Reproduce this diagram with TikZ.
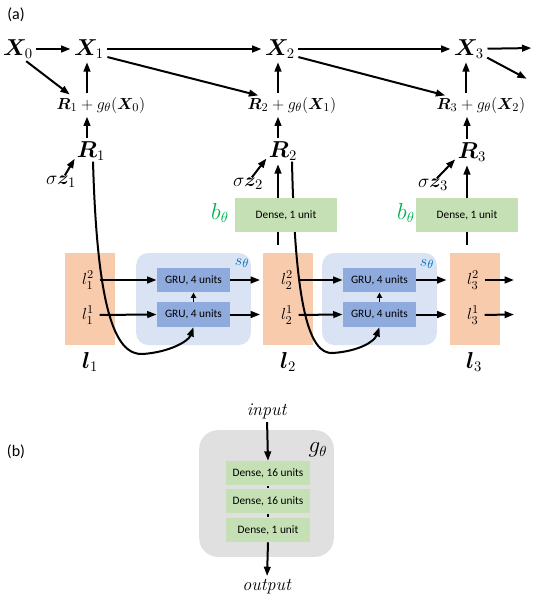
\documentclass[tikz,border=0pt]{standalone}
\usepackage{amsmath}
\usepackage{fontspec}
\setsansfont{Carlito}
\usepackage{bm}
\usetikzlibrary{arrows.meta,calc}
\definecolor{orng}{HTML}{F8CBAD}
\definecolor{lblue}{HTML}{DAE3F3}
\definecolor{gblue}{HTML}{8FAADC}
\definecolor{lgreen}{HTML}{C5E0B4}
\definecolor{gtext}{HTML}{00B050}
\definecolor{btext}{HTML}{0070C0}
\definecolor{lgray}{HTML}{E0E0E0}
\begin{document}
\begin{tikzpicture}[x=0.75pt,y=-0.75pt,
  arr/.style={line width=1.5pt,-{Triangle[length=7pt,width=5pt]},shorten <=2pt,shorten >=2pt},
  sarr/.style={line width=1.3pt,-{Triangle[length=4pt,width=4pt]}},
  ln/.style={line width=1.5pt},
  txt/.style={inner sep=0.5pt},
  bigm/.style={txt,font=\fontsize{16}{18}\selectfont},
  sigm/.style={txt,font=\fontsize{15}{17}\selectfont},
  midm/.style={txt,font=\fontsize{13}{15}\selectfont},
  lm/.style={inner sep=0pt,font=\fontsize{13}{14}\selectfont},
  panel/.style={txt,font=\sffamily\fontsize{12}{14}\selectfont},
  unit/.style={inner sep=0pt,font=\sffamily\fontsize{8.5}{10}\selectfont},
  lbox/.style={fill=orng,draw=none,minimum width=37.5pt,minimum height=69pt,inner sep=0pt},
  sbox/.style={fill=lblue,draw=none,rounded corners=9pt,minimum width=86pt,minimum height=69pt,inner sep=0pt},
  gru/.style={unit,fill=gblue,minimum width=55pt,minimum height=18.5pt},
  dense/.style={unit,fill=lgreen,minimum width=76.5pt,minimum height=25.5pt},
  dsm/.style={unit,fill=lgreen,minimum width=63pt,minimum height=18pt},
]
\useasboundingbox (0,0) rectangle (538,600);

% ---------- panel labels
\node[panel] (pa) at (16,15) {(a)};
\node[panel] (pb) at (16,452) {(b)};

% ---------- top row
\node[bigm] (X0) at (18,49) {$\bm{X}_0$};
\node[bigm] (X1) at (89,49) {$\bm{X}_1$};
\node[bigm] (X2) at (280,49) {$\bm{X}_2$};
\node[bigm] (X3) at (469,49) {$\bm{X}_3$};
\coordinate (o1) at (534,48);
\coordinate (o2) at (529,80);

\node[midm] (Rg1) at (101,105) {$\bm{R}_1+g_\theta(\bm{X}_0)$};
\node[midm] (Rg2) at (292,105) {$\bm{R}_2+g_\theta(\bm{X}_1)$};
\node[midm] (Rg3) at (481,105) {$\bm{R}_3+g_\theta(\bm{X}_2)$};

\node[bigm] (R1) at (91,151) {$\bm{R}_1$};
\node[bigm] (R2) at (283,151) {$\bm{R}_2$};
\node[bigm] (R3) at (472,152) {$\bm{R}_3$};

\node[sigm] (S1) at (61,182) {$\sigma\bm{z}_1$};
\node[sigm] (S2) at (248,184) {$\sigma\bm{z}_2$};
\node[sigm] (S3) at (433,185) {$\sigma\bm{z}_3$};

\draw[arr] (X0) -- (X1);
\draw[arr] (X1) -- (X2);
\draw[arr] (X2) -- (X3);
\draw[arr] (X3) -- (o1);
\draw[arr] (X3.-25) -- (o2);
\draw[arr] (X0.-60) -- ($(Rg1.north west)+(16,0)$);
\draw[arr] (X1.-25) -- ($(Rg2.north west)+(14,0)$);
\draw[arr] (X2.-25) -- ($(Rg3.north west)+(12,0)$);

\draw[arr] (Rg1.north -| R1.north) ++(-4,0) coordinate (t1) -- (t1 |- X1.south);
\draw[arr] (Rg2.north -| R2.north) ++(-5,0) coordinate (t2) -- (t2 |- X2.south);
\draw[arr] (Rg3.north -| R3.north) ++(-6,0) coordinate (t3) -- (t3 |- X3.south);
\draw[arr] (R1.north) ++(-4,0) coordinate (u1) -- (u1 |- Rg1.south);
\draw[arr] (R2.north) ++(-5,0) coordinate (u2) -- (u2 |- Rg2.south);
\draw[arr] (R3.north) ++(-5,0) coordinate (u3) -- (u3 |- Rg3.south);

\draw[arr,shorten <=0pt] (S1.60) -- (R1.200);
\draw[arr,shorten <=0pt] (S2.60) -- (R2.200);
\draw[arr,shorten <=0pt] (S3.60) -- (R3.200);

% ---------- lower row boxes
\node[lbox] (L1) at (90,299) {};
\node[lbox] (L2) at (288,299) {};
\node[lbox] (L3) at (474.5,299) {};
\node[sbox] (SB1) at (193.5,299) {};
\node[sbox] (SB2) at (379.5,299) {};
\node[gru] (G1u) at (193.5,280) {GRU, 4 units};
\node[gru] (G1d) at (193.5,314.5) {GRU, 4 units};
\node[gru] (G2u) at (379.5,280) {GRU, 4 units};
\node[gru] (G2d) at (379.5,314.5) {GRU, 4 units};
\node[midm,text=btext] (st1) at (242,263) {$s_\theta$};
\node[midm,text=btext] (st2) at (427,264) {$s_\theta$};

\node[lm] (l1u) at (88,280) {$l_1^2$};
\node[lm] (l1d) at (88,315) {$l_1^1$};
\node[lm] (l2u) at (287,280) {$l_2^2$};
\node[lm] (l2d) at (287,315) {$l_2^1$};
\node[lm] (l3u) at (473,280) {$l_3^2$};
\node[lm] (l3d) at (473,315) {$l_3^1$};
\node[bigm] (lb1) at (90,362) {$\bm{l}_1$};
\node[bigm] (lb2) at (288,362) {$\bm{l}_2$};
\node[bigm] (lb3) at (474,362) {$\bm{l}_3$};
\coordinate (e3u) at (514,280);
\coordinate (e3d) at (514,314.5);

\draw[arr,shorten <=4pt,shorten >=0pt] (l1u.east) -- (G1u.west);
\draw[arr,shorten <=4pt,shorten >=0pt] (l1d.east) -- (G1d.west);
\draw[arr,shorten <=0pt] (G1u.east) -- (G1u.east -| L2.west);
\draw[arr,shorten <=0pt] (G1d.east) -- (G1d.east -| L2.west);
\draw[arr,shorten <=4pt,shorten >=0pt] (l2u.east) -- (G2u.west);
\draw[arr,shorten <=4pt,shorten >=0pt] (l2d.east) -- (G2d.west);
\draw[arr,shorten <=0pt] (G2u.east) -- (G2u.east -| L3.west);
\draw[arr,shorten <=0pt] (G2d.east) -- (G2d.east -| L3.west);
\draw[arr,shorten <=4pt,shorten >=0pt] (l3u.east) -- (e3u);
\draw[arr,shorten <=4pt,shorten >=0pt] (l3d.east) -- (e3d);
\draw[sarr] (G1d.north) -- (G1u.south);
\draw[sarr] (G2d.north) -- (G2u.south);

% curves (over l boxes, under dense boxes)
\coordinate (m1) at (143,354);
\coordinate (m2) at (333,353);
\draw[ln,-{Triangle[length=7pt,width=5pt]}] ($(R1.south)+(2,0)$) .. controls +(4,140) and +(-30,2) .. (m1)
   .. controls +(27,-2) and +(-5,14) .. (G1d.south);
\draw[ln,-{Triangle[length=7pt,width=5pt]}] ($(R2.south)+(9,0)$) .. controls +(3,140) and +(-25,2) .. (m2)
   .. controls +(27,-2) and +(-5,14) .. (G2d.south);

\node[dense] (D2) at (286,215) {Dense, 1 unit};
\node[dense] (D3) at (467,215) {Dense, 1 unit};
\node[bigm,text=gtext] (B2) at (220,213) {$b_\theta$};
\node[bigm,text=gtext] (B3) at (406,213) {$b_\theta$};

\draw[arr,shorten <=0pt] (D2.north -| u2) -- (u2 |- R2.south);
\draw[arr,shorten <=0pt] (D3.north -| u3) -- (u3 |- R3.south);
\draw[ln,shorten <=6pt] (L2.north -| u2) -- (D2.south -| u2);
\draw[ln,shorten <=6pt] (L3.north -| u3) -- (D3.south -| u3);

% ---------- panel (b)
\node[fill=lgray,rounded corners=14pt,minimum width=101pt,minimum height=95pt,inner sep=0pt] (GB) at (266.5,493.5) {};
\node[bigm] (gt) at (318,450) {$g_\theta$};
\node[dsm] (Dn1) at (268,473) {Dense, 16 units};
\node[dsm] (Dn2) at (268,501) {Dense, 16 units};
\node[dsm] (Dn3) at (268,530) {Dense, 1 unit};
\node[midm,font=\fontsize{13.5}{15}\selectfont] (in) at (267,411) {\textit{input}};
\node[midm,font=\fontsize{13.5}{15}\selectfont] (out) at (267,587) {\textit{output}};
\draw[arr,shorten >=0pt] (in.south) -- (Dn1.north);
\draw[ln] ([yshift=-0.8pt]Dn1.south) -- ([yshift=0.8pt]Dn2.north);
\draw[ln] ([yshift=-0.8pt]Dn2.south) -- ([yshift=0.8pt]Dn3.north);
\draw[arr,shorten <=0pt] (Dn3.south) -- (out.north);
\end{tikzpicture}
\end{document}
